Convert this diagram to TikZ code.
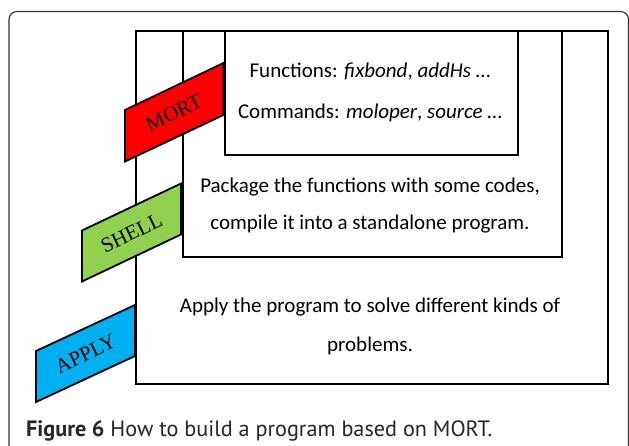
\documentclass[tikz,border=0pt]{standalone}
\usepackage{fontspec}
\setmainfont{Carlito}
\newfontfamily\labelfont{Liberation Serif}
\newfontfamily\capfont{PT Sans}
\begin{document}
\begin{tikzpicture}[x=1pt,y=-1pt,
  layerbox/.style={draw=black, line width=2.2pt, fill=white, inner sep=0pt, anchor=north west},
  tag/.style={draw=black, line width=1.8pt, line join=miter},
  tagtext/.style={font=\labelfont\fontsize{21}{22}\selectfont, rotate=25.6, inner sep=0pt},
  boxtext/.style={font=\fontsize{21}{24}\selectfont, anchor=base, inner sep=0pt},
  frame/.style={draw=black!80, line width=1.1pt, rounded corners=8pt}]
\useasboundingbox (0,0) rectangle (629,446);
\fill[white] (0,0) rectangle (629,446);
\draw[frame] (9,470) -- (9,11.5) -- (628.5,11.5) -- (628.5,470);
% layers
\node[layerbox, minimum width=471.5pt, minimum height=352.5pt] (apply) at (135,30) {};
\node[layerbox, minimum width=379pt, minimum height=226pt] (shell) at (181.5,30) {};
\node[layerbox, minimum width=293pt, minimum height=124pt] (mort) at (224,30) {};
% texts
\node[boxtext] (fn) at (370,77.3) {Functions: \textit{fixbond}, \textit{addHs} \ldots};
\node[boxtext] (cmd) at (370,118.3) {Commands: \textit{moloper}, \textit{source} \ldots};
\node[boxtext] (pk1) at (370,192.7) {Package the functions with some codes,};
\node[boxtext] (pk2) at (370,230) {compile it into a standalone program.};
\node[boxtext] (ap1) at (370,312.7) {Apply the program to solve different kinds of};
\node[boxtext] (ap2) at (370,351) {problems.};
% tags
\draw[tag, fill=red] (125,110) -- (223.5,63) -- (223.5,115) -- (125,161.5) -- cycle;
\node[tagtext] (tmort) at (174,113) {MORT};
\draw[tag, fill={rgb,255:red,146;green,208;blue,80}] (82,230.5) -- (181,183.5) -- (181,234.5) -- (82,281.5) -- cycle;
\node[tagtext] (tshell) at (131.5,233) {SHELL};
\draw[tag, fill={rgb,255:red,0;green,176;blue,240}] (36,351) -- (135,305) -- (135,356) -- (36,402) -- cycle;
\node[tagtext] (tapply) at (85.5,354) {APPLY};
% caption
\node[anchor=base west, inner sep=0pt, font=\capfont\fontsize{22.2}{24}\selectfont, text=black!85] (cap) at (26,436.5) {\textbf{Figure 6} How to build a program based on MORT.};
\end{tikzpicture}
\end{document}
